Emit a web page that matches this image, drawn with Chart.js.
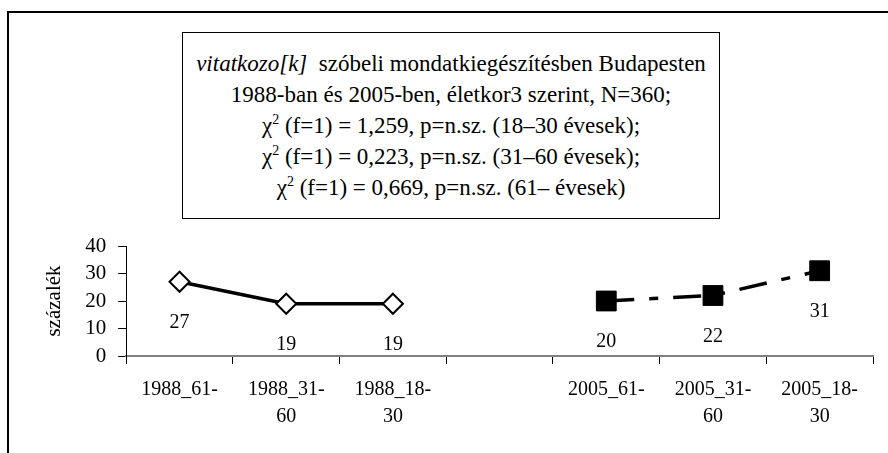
<!DOCTYPE html>
<html>
<head>
<meta charset="utf-8">
<script src="https://cdn.jsdelivr.net/npm/chart.js@4"></script>
<style>
    html, body { margin: 0; padding: 0; background: #fff; }
    #wrap { position: relative; width: 888px; height: 453px; overflow: hidden; }
    #frame { position: absolute; left: 7px; top: 11px; width: 900px; height: 460px;
             border-top: 2px solid #000; border-left: 2px solid #000; }
    #titleBox { position: absolute; left: 182px; top: 32px; width: 536px; height: 185px;
                border: 1px solid #000; background: #fff;
                font-family: 'Times New Roman', Times, 'Liberation Serif', 'Nimbus Roman', 'FreeSerif', 'Noto Serif', 'DejaVu Serif', serif;
                font-size: 23px; line-height: 31px; text-align: center; color: #000;
                display: flex; flex-direction: column; justify-content: center; }
    #titleBox sup { font-size: 14px; line-height: 0; }
    canvas { position: absolute; left: 0; top: 0; }
</style>
</head>
<body>
<div id="wrap">
    <div id="frame"></div>
    <canvas id="grafikon" width="888" height="453"></canvas>
    <div id="titleBox">
        <div><i>vitatkozo[k]</i>&nbsp; szóbeli mondatkiegészítésben Budapesten</div>
        <div>1988-ban és 2005-ben, életkor3 szerint, N=360;</div>
        <div>χ<sup>2</sup> (f=1) = 1,259, p=n.sz. (18–30 évesek);</div>
        <div>χ<sup>2</sup> (f=1) = 0,223, p=n.sz. (31–60 évesek);</div>
        <div>χ<sup>2</sup> (f=1) = 0,669, p=n.sz. (61– évesek)</div>
    </div>
</div>
<script>
// Kategóriák (a középső üres oszlop választja el a két évet)
const kategoriak = [['1988_61-'], ['1988_31-', '60'], ['1988_18-', '30'], '', ['2005_61-'], ['2005_31-', '60'], ['2005_18-', '30']];
const adat1988 = [27, 19, 19, null, null, null, null];
const adat2005 = [null, null, null, null, 20, 22, 31];
const yTengelyCim = 'százalék';

const betu = "'Times New Roman', Times, 'Liberation Serif', 'Nimbus Roman', 'FreeSerif', 'Noto Serif', 'DejaVu Serif', serif";

// Értékcímkék a pontok alatt
const ertekCimkek = {
    id: 'ertekCimkek',
    afterDatasetsDraw(chart) {
        const ctx = chart.ctx;
        ctx.save();
        ctx.font = '20px ' + betu;
        ctx.fillStyle = '#000';
        ctx.textAlign = 'center';
        ctx.textBaseline = 'middle';
        chart.data.datasets.forEach((ds, i) => {
            chart.getDatasetMeta(i).data.forEach((pont, j) => {
                if (ds.data[j] == null) return;
                ctx.fillText(String(ds.data[j]), pont.x, pont.y + 41);
            });
        });
        ctx.restore();
    }
};

new Chart(document.getElementById('grafikon'), {
    type: 'line',
    data: {
        labels: kategoriak,
        datasets: [
            {
                label: '1988',
                data: adat1988,
                borderColor: '#000',
                borderWidth: 3.5,
                pointStyle: 'rectRot',
                pointRadius: 10,
                pointBorderWidth: 2,
                pointBackgroundColor: '#fff',
                pointBorderColor: '#000',
                tension: 0
            },
            {
                label: '2005',
                data: adat2005,
                borderColor: '#000',
                borderWidth: 3.5,
                borderDash: [28, 15, 9, 15],
                pointStyle: 'rect',
                pointRadius: 14,
                pointBorderWidth: 1,
                pointBackgroundColor: '#000',
                pointBorderColor: '#000',
                tension: 0
            }
        ]
    },
    options: {
        responsive: false,
        animation: false,
        layout: { padding: { left: 36, right: 8, top: 246, bottom: 11 } },
        plugins: { legend: { display: false }, tooltip: { enabled: false } },
        scales: {
            x: {
                offset: true,
                grid: { offset: true, drawOnChartArea: false, tickLength: 8, color: '#000', lineWidth: 1 },
                border: { color: '#808080', width: 2 },
                ticks: { color: '#000', font: { family: betu, size: 20, lineHeight: 1.35 }, maxRotation: 0, autoSkip: false, padding: 12 }
            },
            y: {
                min: 0,
                max: 40,
                ticks: { stepSize: 10, autoSkip: false, color: '#000', font: { family: betu, size: 21 }, padding: 12 },
                grid: { drawOnChartArea: false, tickLength: 8, color: '#000' },
                border: { color: '#000', width: 1 },
                title: { display: true, text: yTengelyCim, color: '#000', font: { family: betu, size: 21 }, padding: 6 }
            }
        }
    },
    plugins: [ertekCimkek]
});
</script>
</body>
</html>
